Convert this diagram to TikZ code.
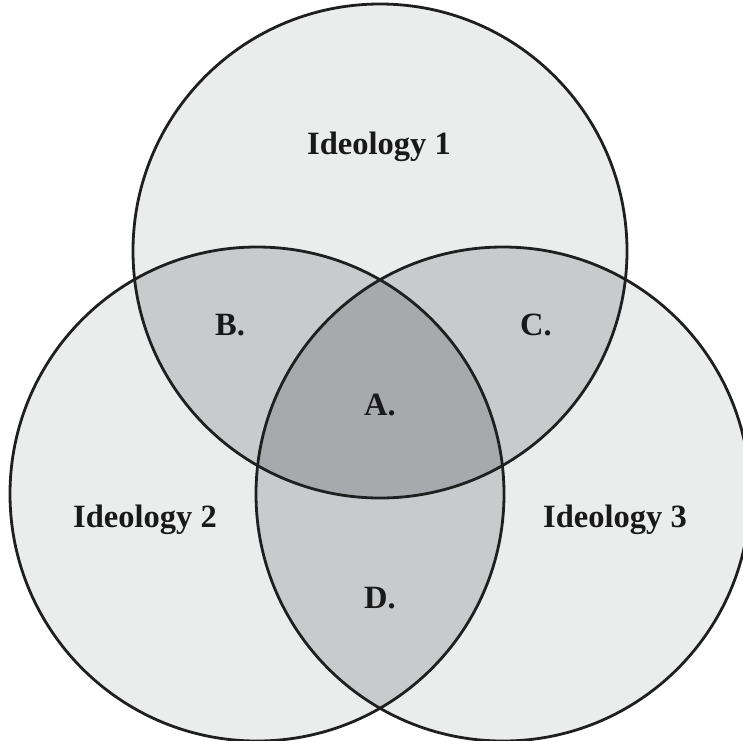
\documentclass[tikz,border=0pt]{standalone}
\usepackage{fontspec}
\setmainfont{Liberation Serif}
\definecolor{lightg}{HTML}{EBECEC}
\definecolor{midg}{HTML}{C9CACC}
\definecolor{darkg}{HTML}{A8A9AC}
\begin{document}
\begin{tikzpicture}[x=1pt,y=-1pt,
  lbl/.style={font=\fontsize{32.5}{38}\selectfont\bfseries, text=black!90},
  ring/.style={draw=black!88, line width=2.8pt}]
\useasboundingbox (0,0) rectangle (743,740);
\begin{scope}
\clip (0,0) rectangle (743,740);
\def\ra{(380,251) circle[radius=247]}
\def\rb{(257,494) circle[radius=247]}
\def\rc{(503,494) circle[radius=247]}
\fill[lightg] \ra; \fill[lightg] \rb; \fill[lightg] \rc;
\begin{scope}\clip \ra; \fill[midg] \rb; \fill[midg] \rc;\end{scope}
\begin{scope}\clip \rb; \fill[midg] \rc;\end{scope}
\begin{scope}\clip \ra; \clip \rb; \fill[darkg] \rc;\end{scope}
\draw[ring] \ra; \draw[ring] \rb; \draw[ring] \rc;
\end{scope}
\node[lbl] (i1) at (379,147) {Ideology 1};
\node[lbl] (i2) at (145,520) {Ideology 2};
\node[lbl] (i3) at (615,520) {Ideology 3};
\node[lbl] (a) at (380,405) {A.};
\node[lbl] (b) at (230,325) {B.};
\node[lbl] (c) at (536,325) {C.};
\node[lbl] (d) at (380,598) {D.};
\end{tikzpicture}
\end{document}
